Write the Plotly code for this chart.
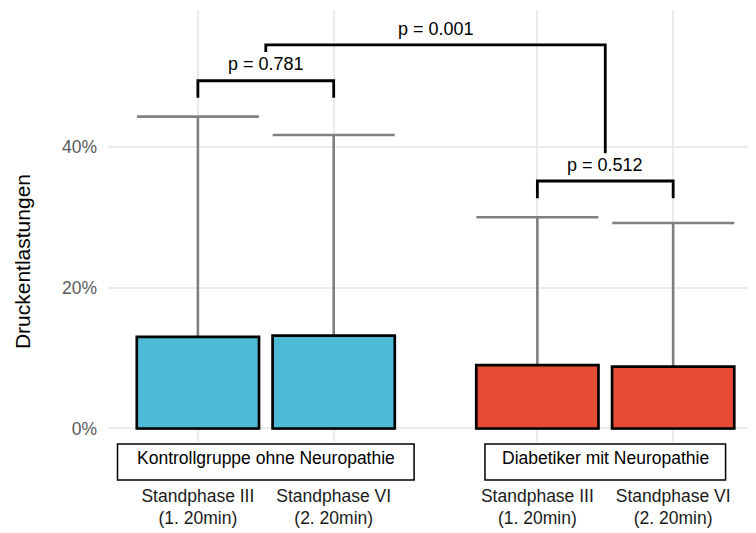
import plotly.graph_objects as go

# ---- data ----
tick_labels = ["Standphase III<br>(1. 20min)", "Standphase VI<br>(2. 20min)",
               "Standphase III<br>(1. 20min)", "Standphase VI<br>(2. 20min)"]
x_pos = [1, 2, 3.5, 4.5]
group_names = ["Kontrollgruppe ohne Neuropathie", "Diabetiker mit Neuropathie"]
group_members = [[0, 1], [2, 3]]
means = [0.130, 0.132, 0.090, 0.088]
upper = [0.443, 0.417, 0.300, 0.292]
bar_colors = ["#4DBBD5", "#4DBBD5", "#E64B35", "#E64B35"]
y_ticks = [0.0, 0.2, 0.4]

comp_labels = ["p = 0.781", "p = 0.001", "p = 0.512"]
comp_x0 = [1.0, 1.5, 3.5]
comp_x1 = [2.0, 4.0, 4.5]
comp_top = [0.494, 0.545, 0.3516]
comp_left_end = [0.470, 0.535, 0.327]
comp_right_end = [0.470, 0.391, 0.327]
comp_label_y = [0.518, 0.568, 0.375]

# ---- styling ----
FONT = "Liberation Sans, Arial, sans-serif"
GRID = "#EBEBEB"

err_plus = [u - m for u, m in zip(upper, means)]

fig = go.Figure()
# error bars (drawn first, then covered by the bars)
fig.add_trace(go.Bar(
    x=x_pos, y=means, width=0.9,
    marker=dict(color="rgba(0,0,0,0)", line=dict(width=0)),
    error_y=dict(type="data", symmetric=False, array=err_plus,
                 arrayminus=means, color="#808080",
                 thickness=2.6, width=61),
    showlegend=False, hoverinfo="skip",
))
fig.add_trace(go.Bar(
    x=x_pos, y=means, width=0.9,
    marker=dict(color=bar_colors, line=dict(color="black", width=2.7)),
    showlegend=False, hoverinfo="skip",
))

shapes = []
annotations = []
for lab, x0, x1, top, le, re_, ly in zip(comp_labels, comp_x0, comp_x1, comp_top,
                                         comp_left_end, comp_right_end, comp_label_y):
    shapes.append(dict(type="path", xref="x", yref="y",
                       path=f"M {x0},{le} L {x0},{top} L {x1},{top} L {x1},{re_}",
                       line=dict(color="black", width=2.8)))
    annotations.append(dict(x=(x0 + x1) / 2, y=ly, xref="x", yref="y", text=lab,
                            showarrow=False, xanchor="center", yanchor="middle",
                            font=dict(family=FONT, size=18, color="black")))

box_half = [1.092, 0.886]
for name, mem, hw in zip(group_names, group_members, box_half):
    cx = sum(x_pos[i] for i in mem) / len(mem)
    shapes.append(dict(type="rect", xref="x", yref="paper",
                       x0=cx - hw, x1=cx + hw, y0=-0.0046, y1=-0.088,
                       line=dict(color="black", width=1.5), fillcolor="white"))
    annotations.append(dict(x=cx, y=-0.037, xref="x", yref="paper", text=name,
                            showarrow=False, xanchor="center", yanchor="middle",
                            font=dict(family=FONT, size=17.5, color="black")))

annotations.append(dict(x=-0.131, y=0.4167, xref="paper", yref="paper",
                        text="Druckentlastungen", textangle=-90, showarrow=False,
                        xanchor="center", yanchor="middle",
                        font=dict(family=FONT, size=21, color="black")))

# the page body has an 8px default margin, so margins are reduced by 8px
fig.update_layout(
    width=756, height=533,
    margin=dict(l=100, r=8, t=2, b=99),
    paper_bgcolor="white", plot_bgcolor="white",
    barmode="overlay",
    shapes=shapes, annotations=annotations,
    xaxis=dict(range=[0.338, 5.11], tickvals=x_pos, ticktext=tick_labels,
               showgrid=True, gridcolor=GRID, gridwidth=1.6, zeroline=False,
               showline=False, ticks="", ticklabelstandoff=41, tickangle=0,
               automargin=False,
               tickfont=dict(family=FONT, size=17.5, color="#1a1a1a")),
    yaxis=dict(range=[-0.0192, 0.5945], tickvals=y_ticks, tickformat=".0%",
               showgrid=True, gridcolor=GRID, gridwidth=1.6, zeroline=False,
               showline=False, ticks="", ticklabelstandoff=10, automargin=False,
               tickfont=dict(family=FONT, size=17.5, color="#5a5a5a")),
)

fig.write_html("out.html")
